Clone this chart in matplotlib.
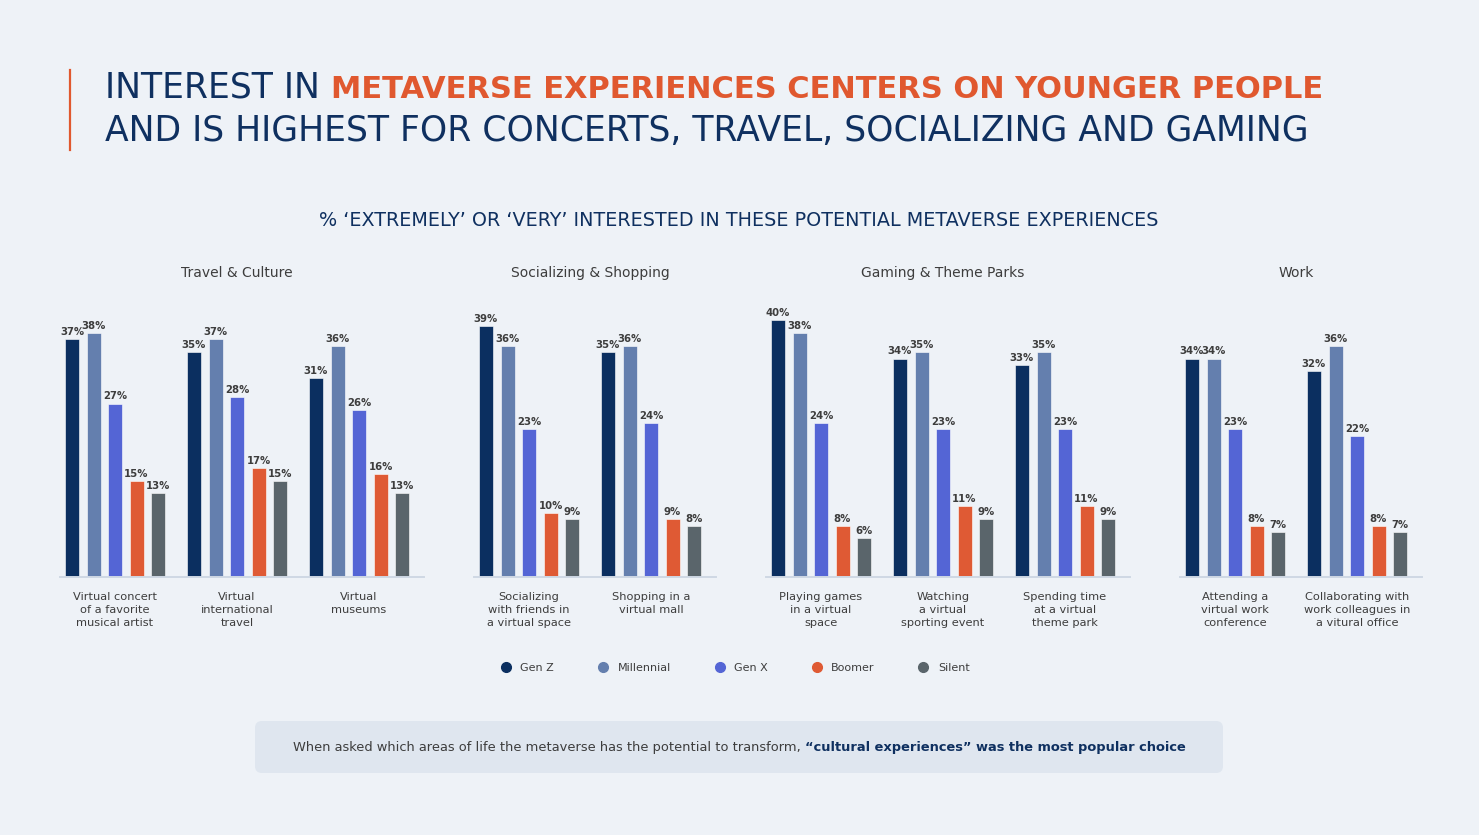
import matplotlib.pyplot as plt
from matplotlib.patches import FancyBboxPatch
from matplotlib.lines import Line2D

# === data ===
panels = ["Travel & Culture", "Socializing & Shopping", "Gaming & Theme Parks", "Work"]
panel_sizes = [3, 2, 3, 2]
categories = [
    "Virtual concert\nof a favorite\nmusical artist",
    "Virtual\ninternational\ntravel",
    "Virtual\nmuseums",
    "Socializing\nwith friends in\na virtual space",
    "Shopping in a\nvirtual mall",
    "Playing games\nin a virtual\nspace",
    "Watching\na virtual\nsporting event",
    "Spending time\nat a virtual\ntheme park",
    "Attending a\nvirtual work\nconference",
    "Collaborating with\nwork colleagues in\na vitural office",
]
generations = ["Gen Z", "Millennial", "Gen X", "Boomer", "Silent"]
gen_z = [37, 35, 31, 39, 35, 40, 34, 33, 34, 32]
millennial = [38, 37, 36, 36, 36, 38, 35, 35, 34, 36]
gen_x = [27, 28, 26, 23, 24, 24, 23, 23, 23, 22]
boomer = [15, 17, 16, 10, 9, 8, 11, 11, 8, 8]
silent = [13, 15, 13, 9, 8, 6, 9, 9, 7, 7]

# === styles ===
colors = ["#0b2f60", "#647fae", "#5465d5", "#df5a34", "#5a656b"]
BG = "#eef2f7"
NAVY = "#0f3060"
ORANGE = "#e0582f"
TXT = "#3d3d3d"
FONT = "DejaVu Sans"
plt.rcParams["font.family"] = [FONT]

W, H = 1479, 835
fig = plt.figure(figsize=(W / 100, H / 100), dpi=100, facecolor=BG)

# full-figure overlay in pixel coordinates for titles and notes
ax0 = fig.add_axes([0, 0, 1, 1])
ax0.set_xlim(0, W)
ax0.set_ylim(H, 0)
ax0.axis("off")

# === titles ===
ax0.plot([70, 70], [70, 150], color=ORANGE, lw=1.6)
t1 = ax0.text(105, 97, "INTEREST IN ", fontsize=24.9, color=NAVY, va="baseline")
ax0.annotate("METAVERSE EXPERIENCES CENTERS ON YOUNGER PEOPLE", xy=(1, 0), xycoords=t1,
             fontsize=22.0, color=ORANGE, fontweight="bold", va="bottom", ha="left")
ax0.text(105, 141, "AND IS HIGHEST FOR CONCERTS, TRAVEL, SOCIALIZING AND GAMING",
         fontsize=24.9, color=NAVY, va="baseline")
ax0.text(739, 220, "% \u2018EXTREMELY\u2019 OR \u2018VERY\u2019 INTERESTED IN THESE POTENTIAL METAVERSE EXPERIENCES",
         fontsize=13.8, color=NAVY, ha="center", va="center")

# === bar panels ===
series = [gen_z, millennial, gen_x, boomer, silent]
first_centers = [115, 529, 821, 1235]
group_px = 122
step = 21.5 / group_px
bar_w = 14 / group_px
base_px = 577
px_per_pct = 6.425
ymax = 45

start = 0
for p, n in enumerate(panel_sizes):
    left = first_centers[p] - group_px / 2
    ax = fig.add_axes([left / W, (H - base_px) / H, n * group_px / W, ymax * px_per_pct / H])
    ax.set_facecolor("none")
    for j, vals in enumerate(series):
        v = vals[start:start + n]
        xs = [i + (j - 2) * step for i in range(n)]
        bars = ax.bar(xs, v, width=bar_w, color=colors[j], edgecolor="white", linewidth=0.4)
        ax.bar_label(bars, labels=[f"{x}%" for x in v], padding=1.5, fontsize=7.3,
                     fontweight="bold", color=TXT)
    ax.set_xlim(-0.5, n - 0.5)
    ax.set_ylim(0, ymax)
    ax.set_xticks(range(n))
    ax.set_xticklabels(categories[start:start + n], fontsize=8.2, color=TXT, linespacing=1.35)
    ax.tick_params(axis="x", length=0, pad=11)
    ax.set_yticks([])
    for s in ["top", "right", "left"]:
        ax.spines[s].set_visible(False)
    ax.spines["bottom"].set_color("#cfd8e4")
    ax.spines["bottom"].set_linewidth(1.4)
    ax.spines["bottom"].set_bounds(-0.45, n - 0.47)
    ax.set_title(panels[p], fontsize=10, color=TXT, pad=8)
    start += n

# === legend ===
handles = [Line2D([], [], marker="o", ls="", color=c, markersize=7) for c in colors]
fig.legend(handles, generations, loc="center", bbox_to_anchor=(735 / W, 1 - 668 / H), ncol=5,
           frameon=False, fontsize=8, labelcolor=TXT, columnspacing=3.9, handletextpad=0.8,
           handlelength=1)

# === note box ===
ax0.add_patch(FancyBboxPatch((255, 721), 968, 52, boxstyle="round,pad=0,rounding_size=7",
                             facecolor="#dfe6ef", edgecolor="none"))
n1 = ax0.text(0, 748, "When asked which areas of life the metaverse has the potential to transform, ",
              fontsize=9.4, color=TXT, va="center")
n2 = ax0.text(0, 748, "\u201ccultural experiences\u201d was the most popular choice",
              fontsize=9.4, color=NAVY, fontweight="bold", va="center")
r = fig.canvas.get_renderer()
w1 = n1.get_window_extent(r).width
w2 = n2.get_window_extent(r).width
x0 = 739 - (w1 + w2) / 2
n1.set_x(x0)
n2.set_x(x0 + w1)

fig.savefig("out.png", dpi=100, facecolor=BG)
